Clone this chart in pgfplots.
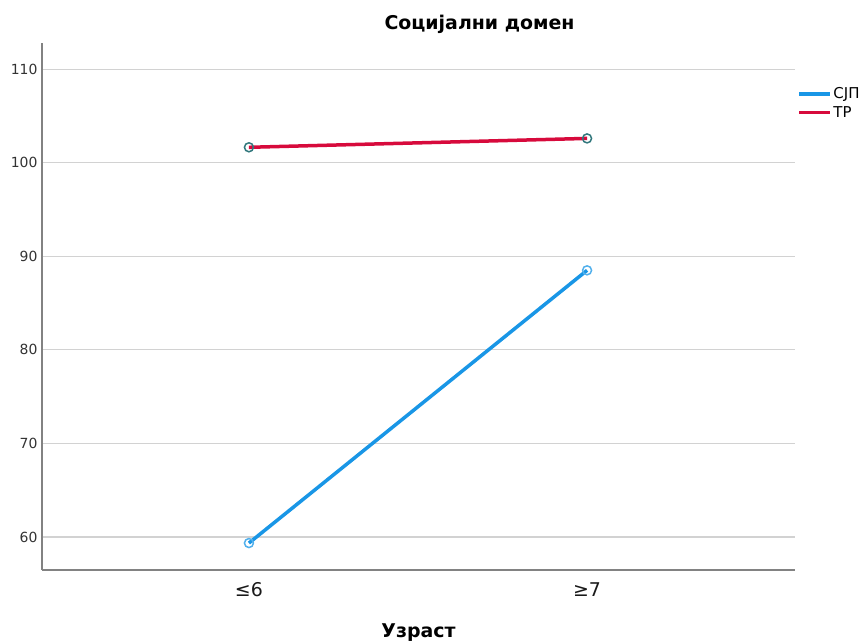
\documentclass[border=0pt]{standalone}
\usepackage{fontspec}
\setmainfont{DejaVu Sans}
\usepackage{pgfplots}
\pgfplotsset{compat=1.18}
\definecolor{cjp}{RGB}{25,150,230}
\definecolor{tp}{RGB}{215,10,60}
\definecolor{tpmark}{RGB}{50,120,125}
\definecolor{gridc}{RGB}{210,210,210}
\definecolor{axc}{RGB}{130,130,130}
\begin{document}
\begin{tikzpicture}[x=1bp,y=1bp]
\useasboundingbox (0,0) rectangle (866,642);
\begin{axis}[
  at={(42bp,72bp)}, anchor=south west,
  scale only axis, width=753bp, height=527bp,
  xmin=-0.612, xmax=1.615, ymin=56.47, ymax=112.8,
  xtick={0,1}, xticklabels={≤6,≥7},
  ytick={60,70,80,90,100,110},
  /pgf/number format/assume math mode=true,
  yticklabel style={font=\fontsize{14}{16}\selectfont, text=black!80, xshift=-1bp},
  xticklabel style={font=\fontsize{19}{21}\selectfont, text=black!90, anchor=base, yshift=-27bp},
  major tick length=0pt,
  axis x line*=bottom, axis y line*=left,
  axis line style={axc, line width=1.2pt},
  x axis line style={-}, y axis line style={-},
  ymajorgrids, grid style={gridc, line width=1.2pt},
  title={\textbf{Социјални домен}},
  title style={font=\fontsize{19}{21}\selectfont, at={(0.5,1)}, anchor=base, yshift=8bp, xshift=61bp},
  xlabel={\textbf{Узраст}},
  xlabel style={font=\fontsize{19}{21}\selectfont, at={(0.5,0)}, anchor=base, yshift=-68bp},
  legend style={at={(rel axis cs:1.003,0.918)}, anchor=north west, draw=none, fill=none,
    font=\fontsize{15}{16}\selectfont, row sep=3bp, inner sep=0bp,
    nodes={inner sep=1.5bp}},
  legend cell align=left,
  legend image code/.code={\draw[#1, mark=none, line width=3.5bp] (0bp,0bp) -- (31bp,0bp);},
]
\addplot[cjp, line width=3.5bp, mark=o, mark size=4.5bp, mark options={draw=cjp!75!white, line width=1.5bp, fill=none}]
  coordinates {(0,59.35) (1,88.5)};
\addlegendentry{СЈП}
\addplot[tp, line width=3.5bp, mark=o, mark size=4.5bp, mark options={draw=tpmark, line width=1.5bp, fill=none}]
  coordinates {(0,101.65) (1,102.6)};
\addlegendentry{ТР}
\end{axis}
\end{tikzpicture}
\end{document}
